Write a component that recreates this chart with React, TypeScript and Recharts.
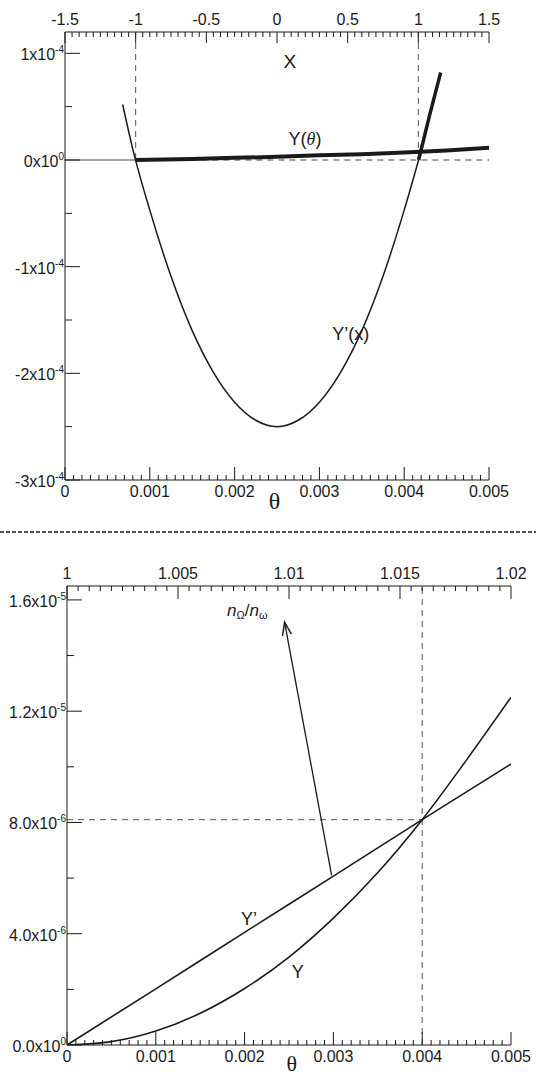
import React from "react";
import { LineChart, Line, XAxis, YAxis, ReferenceLine, ReferenceDot } from "recharts";

// ---- upper panel: Y'(x) parabola and Y(theta) ----
const upperTheta = [0.00068, 0.0008, 0.001, 0.00125, 0.0015, 0.00175, 0.002, 0.00225, 0.0025, 0.00275, 0.003, 0.00325, 0.0035, 0.00375, 0.004, 0.00417];
const upperYPrime = [0.52e-4, 0.1e-4, -0.47e-4, -1.09e-4, -1.6e-4, -1.99e-4, -2.27e-4, -2.44e-4, -2.5e-4, -2.44e-4, -2.27e-4, -1.99e-4, -1.6e-4, -1.09e-4, -0.47e-4, 0];
const upperBranchTheta = [0.00417, 0.0043, 0.00443];
const upperBranchY = [0, 0.42e-4, 0.82e-4];
const upperYTheta = [0.00083, 0.0015, 0.002, 0.0025, 0.003, 0.0035, 0.004, 0.0045, 0.005];
const upperY = [0, 0.01e-4, 0.02e-4, 0.03e-4, 0.045e-4, 0.055e-4, 0.07e-4, 0.09e-4, 0.115e-4];

const upperYTicks = [-3e-4, -2e-4, -1e-4, 0, 1e-4];
const upperYLabels = [["-3", "-4"], ["-2", "-4"], ["-1", "-4"], ["0", "0"], ["1", "-4"]];
const xTicks = [-1.5, -1, -0.5, 0, 0.5, 1, 1.5];
const xLabels = ["-1.5", "-1", "-0.5", "0", "0.5", "1", "1.5"];
const thetaTicks = [0, 0.001, 0.002, 0.003, 0.004, 0.005];
const thetaLabels = ["0", "0.001", "0.002", "0.003", "0.004", "0.005"];

// ---- lower panel: Y and Y' near the crossing ----
const lowerPrimeTheta = [0, 0.001, 0.002, 0.003, 0.004, 0.005];
const lowerYPrime = [0, 2.02e-6, 4.05e-6, 6.07e-6, 8.1e-6, 1.01e-5];
const lowerTheta = [0, 0.0005, 0.001, 0.0015, 0.002, 0.0025, 0.003, 0.0035, 0.004, 0.0045, 0.005];
const lowerY = [0, 0.12e-6, 0.5e-6, 1.14e-6, 2.03e-6, 3.16e-6, 4.56e-6, 6.2e-6, 8.1e-6, 10.25e-6, 12.5e-6];
const lowerYTicks = [0, 4e-6, 8e-6, 1.2e-5, 1.6e-5];
const lowerYLabels = [["0.0", "0"], ["4.0", "-6"], ["8.0", "-6"], ["1.2", "-5"], ["1.6", "-5"]];
const ratioTicks = [1, 1.005, 1.01, 1.015, 1.02];
const ratioLabels = ["1", "1.005", "1.01", "1.015", "1.02"];

const ink = "#1a1a1a";
const sans = "Arial, 'Liberation Sans', Helvetica, sans-serif";
const serif = "'Liberation Serif', 'Times New Roman', serif";

const pts = (xs: number[], ys: number[]) => xs.map((t, i) => ({ t, v: ys[i] }));

// minor tick positions between lo and hi
const steps = (lo: number, hi: number, step: number) => {
  const out: number[] = [];
  const n = Math.round((hi - lo) / step);
  for (let i = 0; i <= n; i++) out.push(Number((lo + i * step).toFixed(10)));
  return out;
};

const findMajor = (majors: number[], v: number) => majors.findIndex((m) => Math.abs(m - v) < 1e-9);

const xTick = (majors: number[], labels: string[], side: "top" | "bottom", majorLen: number, minorLen: number) =>
  (props: any) => {
    const { x, y, payload } = props;
    const i = findMajor(majors, payload.value);
    const dir = side === "top" ? 1 : -1;
    return (
      <g>
        <line x1={x} y1={y} x2={x} y2={y + dir * (i >= 0 ? majorLen : minorLen)} stroke={ink} strokeWidth={1} />
        {i >= 0 && (
          <text x={x} y={side === "top" ? y - 7 : y + 17} textAnchor="middle" fontSize={16} fontFamily={sans} fill={ink}>
            {labels[i]}
          </text>
        )}
      </g>
    );
  };

const yTick = (majors: number[], labels: string[][]) => (props: any) => {
  const { x, y, payload } = props;
  const i = findMajor(majors, payload.value);
  return (
    <g>
      <line x1={x} y1={y} x2={x + (i >= 0 ? 15 : 7)} y2={y} stroke={ink} strokeWidth={1} />
      {i >= 0 && (
        <text x={x - 1} y={y + 7} textAnchor="end" fontSize={16} fontFamily={sans} fill={ink}>
          {labels[i][0]}x10
          <tspan dy={-7} fontSize={10}>{labels[i][1]}</tspan>
        </text>
      )}
    </g>
  );
};

const note = (content: React.ReactNode, size = 18, family = sans) => (p: any) => (
  <text x={p.cx} y={p.cy} textAnchor="middle" dominantBaseline="central" fontSize={size} fontFamily={family} fill={ink}>
    {content}
  </text>
);

const arrow = (p: any) => {
  const { x1, y1, x2, y2 } = p;
  const a = Math.atan2(y2 - y1, x2 - x1);
  const bx = x2 - 13 * Math.cos(a);
  const by = y2 - 13 * Math.sin(a);
  const px = -Math.sin(a) * 4.5;
  const py = Math.cos(a) * 4.5;
  return (
    <g>
      <line x1={x1} y1={y1} x2={x2} y2={y2} stroke={ink} strokeWidth={1.3} />
      <path d={`M${bx + px},${by + py} L${x2},${y2} L${bx - px},${by - py}`} fill="none" stroke={ink} strokeWidth={1.5} />
    </g>
  );
};

const dash = "6 5";

export default function App() {
  return (
    <div style={{ position: "absolute", left: 0, top: 0, width: 536, height: 1076, background: "#fff", overflow: "hidden" }}>
      <div style={{ position: "absolute", left: 0, top: 0 }}>
        <LineChart width={536} height={530} margin={{ top: 0, right: 47, bottom: 0, left: 0 }}>
          <XAxis xAxisId="t" dataKey="t" type="number" domain={[0, 0.005]} allowDataOverflow ticks={steps(0, 0.005, 0.0001)} interval={0}
            height={50} tickSize={0} tickMargin={0} tickLine={false} axisLine={{ stroke: ink }}
            tick={xTick(thetaTicks, thetaLabels, "bottom", 13, 5)} />
          <XAxis xAxisId="x" dataKey="t" orientation="top" type="number" domain={[-1.5, 1.5]} allowDataOverflow ticks={steps(-1.5, 1.5, 0.05)} interval={0}
            height={32} tickSize={0} tickMargin={0} tickLine={false} axisLine={{ stroke: ink }}
            tick={xTick(xTicks, xLabels, "top", 11, 5)} />
          <YAxis type="number" domain={[-3e-4, 1.2e-4]} allowDataOverflow ticks={steps(-3e-4, 1e-4, 0.5e-4)} interval={0} width={65}
            tickSize={0} tickMargin={0} tickLine={false} axisLine={{ stroke: ink }}
            tick={yTick(upperYTicks, upperYLabels)} />

          {/* invisible series so the top X axis gets a domain */}
          <Line xAxisId="x" data={pts([-1.5, 1.5], [0, 0])} dataKey="v" stroke="none" dot={false} activeDot={false} isAnimationActive={false} />

          <ReferenceLine xAxisId="t" segment={[{ x: 0, y: 0 }, { x: 0.00083, y: 0 }]} stroke="#444" strokeWidth={1} />
          <ReferenceLine xAxisId="t" segment={[{ x: 0.00083, y: 0 }, { x: 0.005, y: 0 }]} stroke="#444" strokeWidth={1} strokeDasharray={dash} />
          <ReferenceLine xAxisId="x" segment={[{ x: -1, y: 1.2e-4 }, { x: -1, y: 0 }]} stroke="#555" strokeWidth={1} strokeDasharray={dash} ifOverflow="visible" />
          <ReferenceLine xAxisId="x" segment={[{ x: 1, y: 1.2e-4 }, { x: 1, y: 0 }]} stroke="#555" strokeWidth={1} strokeDasharray={dash} ifOverflow="visible" />

          <Line xAxisId="t" data={pts(upperTheta, upperYPrime)} dataKey="v" type="monotone" stroke={ink} strokeWidth={1.5} dot={false} isAnimationActive={false} />
          <Line xAxisId="t" data={pts(upperBranchTheta, upperBranchY)} dataKey="v" type="monotone" stroke={ink} strokeWidth={3.5} dot={false} isAnimationActive={false} />
          <Line xAxisId="t" data={pts(upperYTheta, upperY)} dataKey="v" type="monotone" stroke={ink} strokeWidth={4} dot={false} isAnimationActive={false} />

          <ReferenceDot xAxisId="t" x={0.00265} y={0.92e-4} r={0} ifOverflow="visible" shape={note("X", 19)} />
          <ReferenceDot xAxisId="t" x={0.00283} y={0.197e-4} r={0} ifOverflow="visible"
            shape={note(<>Y(<tspan fontFamily={serif} fontStyle="italic">θ</tspan>)</>, 18)} />
          <ReferenceDot xAxisId="t" x={0.00337} y={-1.63e-4} r={0} ifOverflow="visible" shape={note("Y’(x)", 18)} />
          <ReferenceDot xAxisId="t" x={0.00247} y={-3.2e-4} r={0} ifOverflow="visible" shape={note("θ", 24, serif)} />
        </LineChart>
      </div>

      <svg width={536} height={4} style={{ position: "absolute", left: 0, top: 530 }}>
        <line x1={0} y1={2} x2={536} y2={2} stroke={ink} strokeWidth={1.5} strokeDasharray="4 2" />
      </svg>

      <div style={{ position: "absolute", left: 0, top: 540 }}>
        <LineChart width={536} height={536} margin={{ top: 0, right: 25, bottom: 0, left: 0 }}>
          <XAxis xAxisId="t" dataKey="t" type="number" domain={[0, 0.005]} allowDataOverflow ticks={steps(0, 0.005, 0.0001)} interval={0}
            height={31} tickSize={0} tickMargin={0} tickLine={false} axisLine={{ stroke: ink }}
            tick={xTick(thetaTicks, thetaLabels, "bottom", 13, 5)} />
          <XAxis xAxisId="r" dataKey="t" orientation="top" type="number" domain={[1, 1.02]} allowDataOverflow ticks={steps(1, 1.02, 0.0005)} interval={0}
            height={46} tickSize={0} tickMargin={0} tickLine={false} axisLine={{ stroke: ink }}
            tick={xTick(ratioTicks, ratioLabels, "top", 13, 5)} />
          <YAxis type="number" domain={[0, 1.65e-5]} allowDataOverflow ticks={steps(0, 1.6e-5, 2e-6)} interval={0} width={67}
            tickSize={0} tickMargin={0} tickLine={false} axisLine={{ stroke: ink }}
            tick={yTick(lowerYTicks, lowerYLabels)} />

          {/* invisible series so the top ratio axis gets a domain */}
          <Line xAxisId="r" data={pts([1, 1.02], [0, 0])} dataKey="v" stroke="none" dot={false} activeDot={false} isAnimationActive={false} />

          <ReferenceLine xAxisId="t" x={0.004} stroke="#555" strokeWidth={1} strokeDasharray={dash} />
          <ReferenceLine xAxisId="t" segment={[{ x: 0, y: 8.1e-6 }, { x: 0.004, y: 8.1e-6 }]} stroke="#555" strokeWidth={1} strokeDasharray={dash} />

          <Line xAxisId="t" data={pts(lowerPrimeTheta, lowerYPrime)} dataKey="v" type="monotone" stroke={ink} strokeWidth={1.6} dot={false} isAnimationActive={false} />
          <Line xAxisId="t" data={pts(lowerTheta, lowerY)} dataKey="v" type="monotone" stroke={ink} strokeWidth={1.6} dot={false} isAnimationActive={false} />

          <ReferenceLine xAxisId="t" segment={[{ x: 0.00298, y: 6.1e-6 }, { x: 0.00245, y: 15.2e-6 }]} shape={arrow} />

          <ReferenceDot xAxisId="t" x={0.00203} y={15.64e-6} r={0} ifOverflow="visible"
            shape={note(
              <>
                <tspan fontStyle="italic">n</tspan>
                <tspan dy={5} fontSize={11}>Ω</tspan>
                <tspan dy={-5}>/</tspan>
                <tspan fontStyle="italic">n</tspan>
                <tspan dy={5} fontSize={11}>ω</tspan>
              </>,
              17
            )} />
          <ReferenceDot xAxisId="t" x={0.00205} y={4.53e-6} r={0} ifOverflow="visible" shape={note("Y’", 18)} />
          <ReferenceDot xAxisId="t" x={0.0026} y={2.62e-6} r={0} ifOverflow="visible" shape={note("Y", 18)} />
          <ReferenceDot xAxisId="t" x={0.00253} y={-0.65e-6} r={0} ifOverflow="visible" shape={note("θ", 22, serif)} />
        </LineChart>
      </div>
    </div>
  );
}
